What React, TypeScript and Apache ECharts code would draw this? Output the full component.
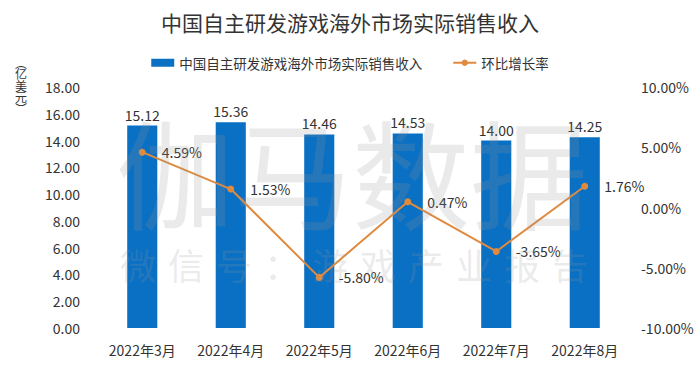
import React, { useEffect, useRef } from "react";
import * as echarts from "echarts";

const categories = ["2022年3月", "2022年4月", "2022年5月", "2022年6月", "2022年7月", "2022年8月"];
const revenue = [15.12, 15.36, 14.46, 14.53, 14.0, 14.25];
const growth = [4.59, 1.53, -5.8, 0.47, -3.65, 1.76];
const seriesNames = ["中国自主研发游戏海外市场实际销售收入", "环比增长率"];
const titleText = "中国自主研发游戏海外市场实际销售收入";
const unitChars = ["︵", "亿", "美", "元", "︶"];
const watermarkMain = "伽马数据";
const watermarkSub = "微信号：游戏产业报告";

const FONT = '"Noto Sans CJK SC", "Noto Sans", sans-serif';

export default function App() {
  const ref = useRef<HTMLDivElement>(null);
  useEffect(() => {
    document.body.style.margin = "0";
    if (!ref.current) return;
    const chart = echarts.init(ref.current, null, { renderer: "svg" });
    const wmColor = "rgba(150,150,150,0.2)";
    const subChars = watermarkSub.split("").map((ch, i) => ({
      type: "text",
      left: 120 + i * 48,
      top: 246,
      z: 100,
      silent: true,
      style: { text: ch, font: `36px ${FONT}`, fill: wmColor },
    }));
    const unitY = [62, 73, 85, 96, 108];
    const unit = unitChars.map((ch, i) => ({
      type: "text",
      x: 21,
      y: unitY[i],
      style: {
        text: ch,
        font: `12px ${FONT}`,
        fill: "#333",
        align: "center",
        verticalAlign: "middle",
      },
    }));
    chart.setOption({
      animation: false,
      textStyle: { fontFamily: FONT },
      title: {
        text: titleText,
        left: "center",
        top: 6,
        textStyle: { fontSize: 21, fontWeight: "normal", color: "#333" },
      },
      legend: {
        top: 51,
        left: "center",
        itemGap: 30,
        itemWidth: 23,
        itemHeight: 8,
        textStyle: { fontSize: 13.5, color: "#333" },
        data: [
          { name: seriesNames[0], icon: "rect" },
          { name: seriesNames[1] },
        ],
      },
      grid: { left: 98, right: 71, top: 87, bottom: 43 },
      xAxis: {
        type: "category",
        data: categories,
        axisLine: { show: false },
        axisTick: { show: false },
        axisLabel: { fontSize: 14, color: "#333", margin: 15 },
      },
      yAxis: [
        {
          type: "value",
          min: 0,
          max: 18,
          interval: 2,
          splitLine: { show: false },
          axisLine: { show: false },
          axisTick: { show: false },
          axisLabel: { fontSize: 14, color: "#333", margin: 18, formatter: (v: number) => v.toFixed(2) },
        },
        {
          type: "value",
          min: -10,
          max: 10,
          interval: 5,
          splitLine: { show: false },
          axisLine: { show: false },
          axisTick: { show: false },
          axisLabel: { fontSize: 14, color: "#333", margin: 12, formatter: (v: number) => v.toFixed(2) + "%" },
        },
      ],
      series: [
        {
          name: seriesNames[0],
          type: "bar",
          data: revenue,
          barWidth: "34%",
          itemStyle: { color: "#0A70C4" },
          label: {
            show: true,
            position: "top",
            distance: 4,
            fontSize: 14,
            color: "#333",
            formatter: (p: any) => p.value.toFixed(2),
          },
        },
        {
          name: seriesNames[1],
          type: "line",
          yAxisIndex: 1,
          data: growth,
          symbol: "circle",
          symbolSize: 7,
          itemStyle: { color: "#E08A3E" },
          lineStyle: { color: "#E08A3E", width: 2 },
          label: {
            show: true,
            position: "right",
            distance: 16,
            fontSize: 14,
            color: "#333",
            formatter: (p: any) => p.value.toFixed(2) + "%",
          },
          z: 5,
        },
      ],
      graphic: [
        ...unit,
        {
          type: "text",
          left: 116,
          top: 110,
          z: 100,
          silent: true,
          style: { text: watermarkMain, font: `118px ${FONT}`, fill: wmColor },
        },
        ...subChars,
      ],
    });
    return () => chart.dispose();
  }, []);
  return <div ref={ref} style={{ width: 700, height: 371 }} />;
}
